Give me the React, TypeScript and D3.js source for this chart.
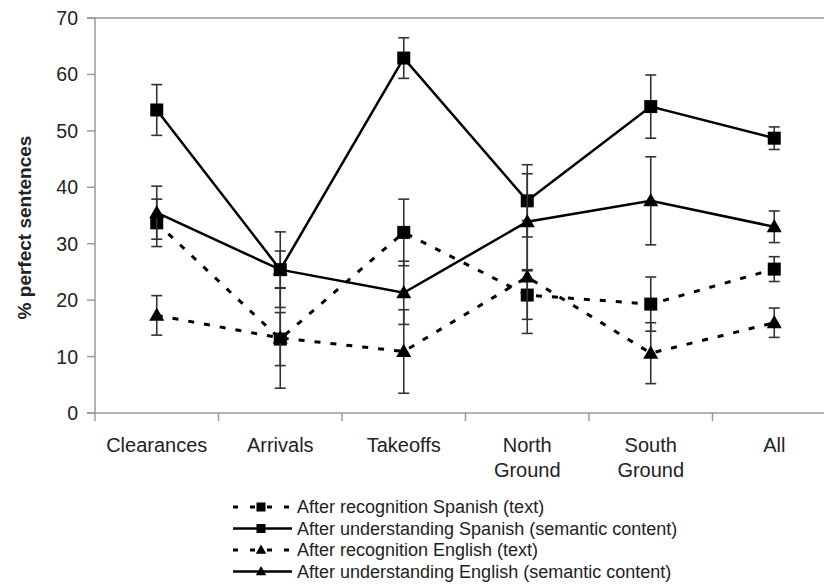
import React from "react";
import * as d3 from "d3";

const categories = ["Clearances", "Arrivals", "Takeoffs", "North Ground", "South Ground", "All"];
const yTicks = [0, 10, 20, 30, 40, 50, 60, 70];

const recSpanish = [33.7, 13.1, 32.0, 20.9, 19.3, 25.5];
const recSpanishErr = [4.2, 4.7, 5.9, 4.3, 4.8, 2.2];
const undSpanish = [53.7, 25.4, 62.9, 37.6, 54.3, 48.7];
const undSpanishErr = [4.5, 6.7, 3.6, 6.4, 5.6, 2.0];
const recEnglish = [17.3, 13.3, 10.9, 24.1, 10.6, 16.0];
const recEnglishErr = [3.5, 8.9, 7.4, 10.0, 5.4, 2.6];
const undEnglish = [35.5, 25.4, 21.3, 33.9, 37.6, 33.0];
const undEnglishErr = [4.7, 3.3, 5.6, 8.5, 7.8, 2.8];

const series = [
  { name: "After recognition Spanish (text)", values: recSpanish, err: recSpanishErr, marker: "square", dashed: true },
  { name: "After understanding Spanish (semantic content)", values: undSpanish, err: undSpanishErr, marker: "square", dashed: false },
  { name: "After recognition English (text)", values: recEnglish, err: recEnglishErr, marker: "triangle", dashed: true },
  { name: "After understanding English (semantic content)", values: undEnglish, err: undEnglishErr, marker: "triangle", dashed: false },
];

const W = 824;
const H = 586;
const left = 95;
const top = 18;
const bottom = 413;
const font = "'Liberation Sans', Arial, sans-serif";
const gray = "#9a9a9a";

const x = d3.scaleBand<string>().domain(categories).range([left, left + 6 * 123.5]).padding(0);
const y = d3.scaleLinear().domain([0, 70]).range([bottom, top]);
const cx = (c: string) => (x(c) as number) + x.bandwidth() / 2;

const Marker = ({ kind, px, py, s }: { kind: string; px: number; py: number; s: number }) =>
  kind === "square" ? (
    <rect x={px - s / 2} y={py - s / 2} width={s} height={s} fill="#000" />
  ) : (
    <path
      d={`M${px},${py - s * 0.6}L${px + s * 0.58},${py + s * 0.42}L${px - s * 0.58},${py + s * 0.42}Z`}
      fill="#000"
    />
  );

export default function App() {
  const line = d3
    .line<number>()
    .x((_, i) => cx(categories[i]))
    .y((d) => y(d));

  return (
    <svg width={W} height={H} style={{ display: "block", position: "absolute", left: 0, top: 0 }} fontFamily={font}>
      <rect width={W} height={H} fill="#fff" />
      {/* axes */}
      <line x1={left - 8} x2={W} y1={top} y2={top} stroke={gray} strokeWidth={1.5} />
      <line x1={left} x2={left} y1={top} y2={bottom + 8} stroke={gray} strokeWidth={1.5} />
      <line x1={left - 8} x2={W} y1={bottom} y2={bottom} stroke={gray} strokeWidth={1.5} />
      {yTicks.map((t) => (
        <g key={t}>
          <line x1={left - 8} x2={left} y1={y(t)} y2={y(t)} stroke={gray} strokeWidth={1.5} />
          <text x={left - 17} y={y(t)} dy="0.36em" textAnchor="end" fontSize={19.5} fill="#222">
            {t}
          </text>
        </g>
      ))}
      {categories.map((c) => (
        <g key={c}>
          <line x1={x(c)! + x.bandwidth()} x2={x(c)! + x.bandwidth()} y1={bottom} y2={bottom + 8} stroke={gray} strokeWidth={1.5} />
          {c.split(" ").map((w, i) => (
            <text key={i} x={cx(c)} y={452 + i * 25} textAnchor="middle" fontSize={20} fill="#222">
              {w}
            </text>
          ))}
        </g>
      ))}
      <text
        transform={`translate(31,${(top + bottom) / 2 + 12}) rotate(-90)`}
        textAnchor="middle"
        fontSize={19}
        fontWeight="bold"
        fill="#222"
      >
        % perfect sentences
      </text>
      {/* series */}
      {series.map((s) => (
        <g key={s.name}>
          <path
            d={line(s.values) as string}
            fill="none"
            stroke="#000"
            strokeWidth={s.dashed ? 3 : 2.5}
            strokeDasharray={s.dashed ? "6,10" : undefined}
          />
          {s.values.map((v, i) => {
            const px = cx(categories[i]);
            const hi = y(v + s.err[i]);
            const lo = y(v - s.err[i]);
            return (
              <g key={i} stroke="#333" strokeWidth={1.6}>
                <line x1={px} x2={px} y1={hi} y2={lo} />
                <line x1={px - 5.5} x2={px + 5.5} y1={hi} y2={hi} />
                <line x1={px - 5.5} x2={px + 5.5} y1={lo} y2={lo} />
              </g>
            );
          })}
          {s.values.map((v, i) => (
            <Marker key={i} kind={s.marker} px={cx(categories[i])} py={y(v)} s={13} />
          ))}
        </g>
      ))}
      {/* legend */}
      {series.map((s, i) => {
        const ly = 507 + i * 21.5;
        return (
          <g key={s.name}>
            <line
              x1={233}
              x2={292}
              y1={ly}
              y2={ly}
              stroke="#000"
              strokeWidth={s.dashed ? 3 : 2.5}
              strokeDasharray={s.dashed ? "5,12" : undefined}
            />
            <Marker kind={s.marker} px={261} py={ly} s={9} />
            <text x={297} y={ly} dy="0.36em" fontSize={18} fill="#222">
              {s.name}
            </text>
          </g>
        );
      })}
    </svg>
  );
}
